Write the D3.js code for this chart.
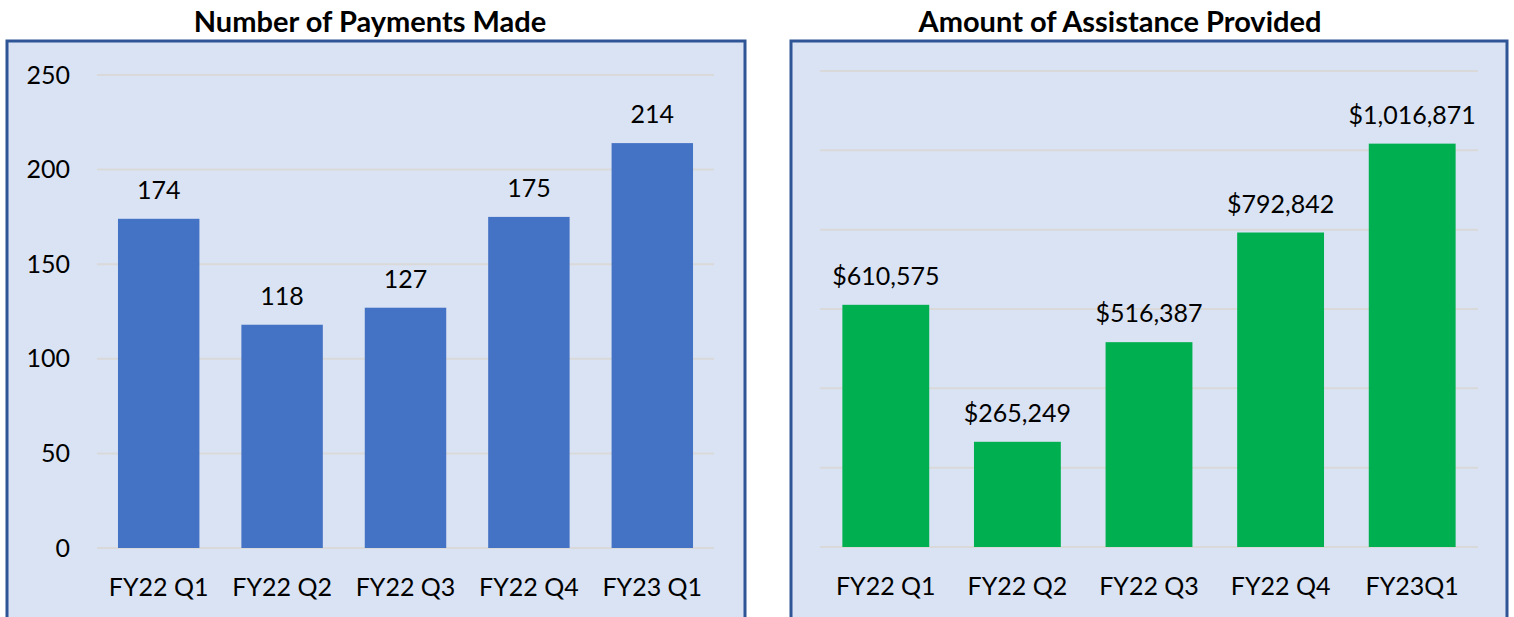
<!DOCTYPE html>
<style>
body { margin: 0; background: #fff; }
text { font-family: Lato, "Open Sans", sans-serif; fill: #000; }
</style>
<svg width="1514" height="617"></svg>
<script src="https://d3js.org/d3.v7.min.js"></script>
<script>

var quarters = ["FY22 Q1", "FY22 Q2", "FY22 Q3", "FY22 Q4", "FY23 Q1"],
    quarters2 = ["FY22 Q1", "FY22 Q2", "FY22 Q3", "FY22 Q4", "FY23Q1"];
var payments = [174, 118, 127, 175, 214];
var assistance = [610575, 265249, 516387, 792842, 1016871];
var paymentTicks = [0, 50, 100, 150, 200, 250];
var assistanceTicks = [0, 200000, 400000, 600000, 800000, 1000000, 1200000];

var svg = d3.select("svg");

function panel(opts) {
  var g = svg.append("g");

  g.append("rect")
      .attr("x", opts.box[0])
      .attr("y", opts.box[1])
      .attr("width", opts.box[2])
      .attr("height", opts.box[3])
      .attr("fill", "#dae3f3")
      .attr("stroke", "#2f5597")
      .attr("stroke-width", 3);

  g.append("text")
      .attr("x", opts.titleX)
      .attr("y", 32)
      .attr("text-anchor", "middle")
      .style("font-size", "29px")
      .style("font-weight", "bold")
      .text(opts.title);

  var x = d3.scaleBand()
      .domain(opts.cats)
      .range([opts.x0, opts.x1])
      .paddingInner(0.34)
      .paddingOuter(0.17);

  var y = d3.scaleLinear()
      .domain([0, d3.max(opts.ticks)])
      .range([opts.y0, opts.y1]);

  // gridlines
  g.append("g")
    .selectAll("line")
    .data(opts.ticks)
    .join("line")
      .attr("x1", opts.x0)
      .attr("x2", opts.x1)
      .attr("y1", function(d) { return y(d); })
      .attr("y2", function(d) { return y(d); })
      .attr("stroke", "#d9d9d9")
      .attr("stroke-width", 2);

  if (opts.showY) {
    var yAxis = d3.axisLeft(y).tickValues(opts.ticks).tickSize(0).tickPadding(0);
    var ya = g.append("g")
        .attr("transform", "translate(" + (opts.x0 - 27) + ",0)")
        .call(yAxis);
    ya.select(".domain").remove();
    ya.selectAll("text").style("font-size", "25px").attr("fill", "#000");
  }

  g.selectAll(".bar")
    .data(opts.values)
    .join("rect")
      .attr("class", "bar")
      .attr("x", function(d, i) { return x(opts.cats[i]); })
      .attr("width", x.bandwidth())
      .attr("y", function(d) { return y(d); })
      .attr("height", function(d) { return y(0) - y(d); })
      .attr("fill", opts.color);

  g.selectAll(".val")
    .data(opts.values)
    .join("text")
      .attr("class", "val")
      .attr("x", function(d, i) { return x(opts.cats[i]) + x.bandwidth() / 2; })
      .attr("y", function(d) { return y(d) - 20; })
      .attr("text-anchor", "middle")
      .style("font-size", "25px")
      .text(opts.fmt);

  var xAxis = d3.axisBottom(x).tickSize(0).tickPadding(0);
  var xa = g.append("g")
      .attr("transform", "translate(0," + (opts.y0 + 30) + ")")
      .call(xAxis);
  xa.select(".domain").remove();
  xa.selectAll("text").style("font-size", "25px").attr("fill", "#000").attr("dy", "0.71em");
}

panel({
  box: [7, 41, 738, 600],
  title: "Number of Payments Made",
  titleX: 370,
  cats: quarters,
  values: payments,
  ticks: paymentTicks,
  x0: 97, x1: 714,
  y0: 548, y1: 75,
  color: "#4472c4",
  showY: true,
  fmt: function(d) { return d3.format("d")(d); }
});

panel({
  box: [791, 41, 716, 600],
  title: "Amount of Assistance Provided",
  titleX: 1120,
  cats: quarters2,
  values: assistance,
  ticks: assistanceTicks,
  x0: 820, x1: 1478,
  y0: 547, y1: 71,
  color: "#00b050",
  showY: false,
  fmt: function(d) { return d3.format("$,")(d); }
});

</script>
